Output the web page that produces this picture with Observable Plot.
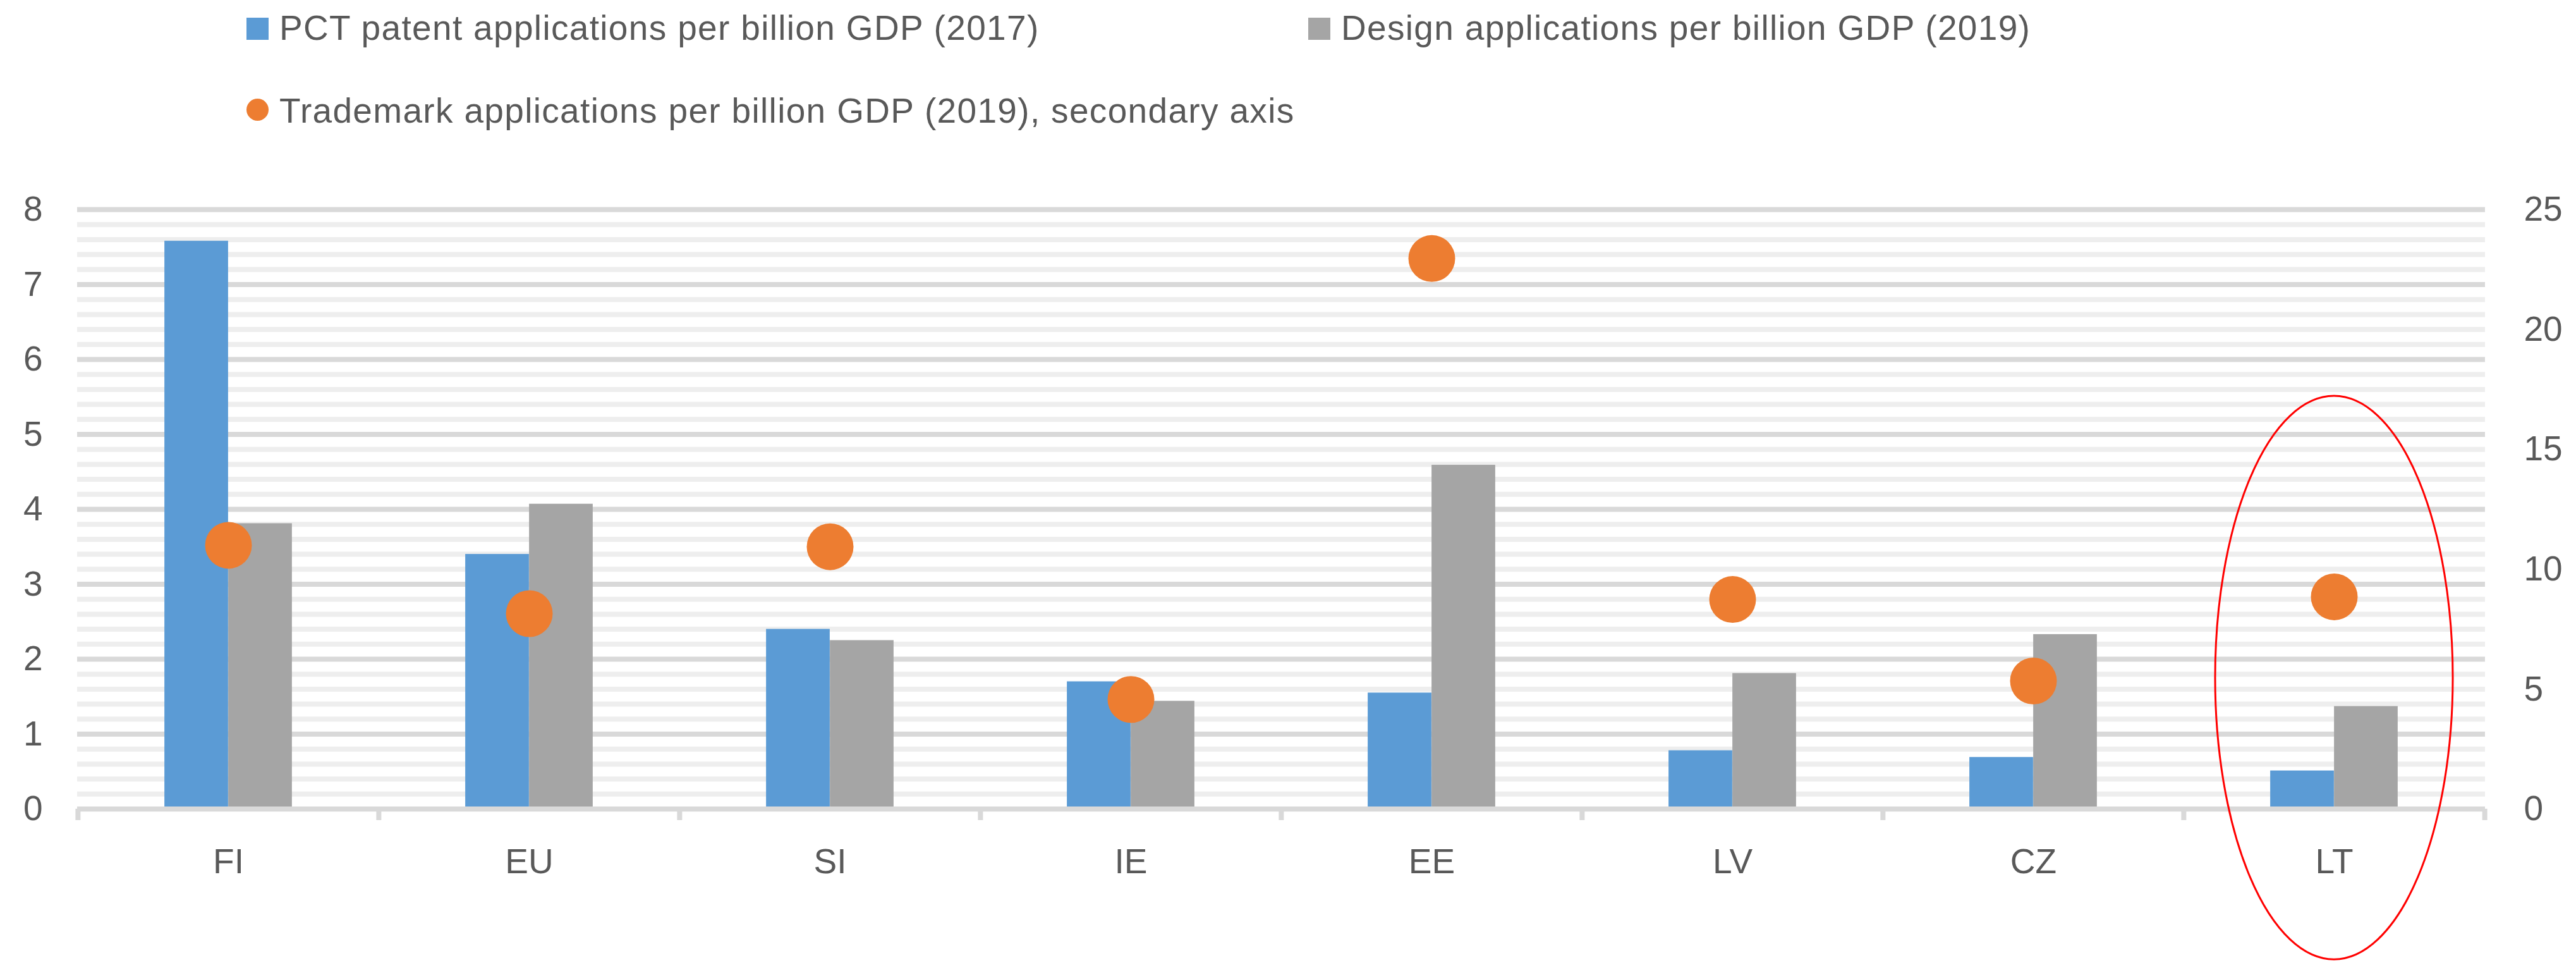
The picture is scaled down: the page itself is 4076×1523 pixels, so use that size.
<!DOCTYPE html>
<html>
<head>
<meta charset="utf-8">
<script src="https://cdn.jsdelivr.net/npm/d3@7"></script>
<script src="https://cdn.jsdelivr.net/npm/@observablehq/plot@0.6"></script>
<style>
  html, body { margin: 0; padding: 0; background: #fff; overflow: hidden; }
  #legend { position: relative; width: 4076px; height: 250px;
            font-family: "Liberation Sans", Arial, sans-serif; font-size: 55px; color: #595959; }
  .item { position: absolute; line-height: 70px; white-space: nowrap; letter-spacing: 1.33px; }
  .sw { display: inline-block; width: 35px; height: 35px; margin-right: 17px; vertical-align: baseline; }
  .sw.circle { border-radius: 50%; vertical-align: 3px; }
</style>
</head>
<body>
<div id="legend"></div>
<div id="chart"></div>
<script>
// ---- data ----
const countries = ["FI", "EU", "SI", "IE", "EE", "LV", "CZ", "LT"];
const pctPatents = [7.58, 3.40, 2.40, 1.70, 1.55, 0.78, 0.69, 0.51];        // left axis
const designApps = [3.81, 4.07, 2.25, 1.44, 4.59, 1.81, 2.33, 1.37];        // left axis
const trademarkApps = [11.0, 8.15, 10.94, 4.57, 22.96, 8.74, 5.34, 8.85];   // secondary axis
const leftTicks = [0, 1, 2, 3, 4, 5, 6, 7, 8];
const rightTicks = [0, 5, 10, 15, 20, 25];
const seriesNames = [
  "PCT patent applications per billion GDP (2017)",
  "Design applications per billion GDP (2019)",
  "Trademark applications per billion GDP (2019), secondary axis"
];
const seriesColors = ["#5B9BD5", "#A5A5A5", "#ED7D31"];
// highlight ellipse around LT (in data units)
const highlight = { country: "LT", cy: 1.75, ryUnits: 3.76, rxBands: 0.395 };

// ---- legend ----
const legendPos = [{left: 390, top: 9, shape: "square"}, {left: 2070, top: 9, shape: "square"}, {left: 390, top: 140, shape: "circle"}];
const legend = document.getElementById("legend");
seriesNames.forEach((name, i) => {
  const it = document.createElement("div");
  it.className = "item";
  it.style.left = legendPos[i].left + "px";
  it.style.top = legendPos[i].top + "px";
  const sw = document.createElement("span");
  sw.className = "sw" + (legendPos[i].shape === "circle" ? " circle" : "");
  sw.style.background = seriesColors[i];
  it.appendChild(sw);
  it.appendChild(document.createTextNode(name));
  legend.appendChild(it);
});

// ---- chart ----
const W = 4076, H = 1273;
const mL = 122, mR = 144, mT = 81, mB = 244;
const bw = (W - mL - mR) / countries.length;
const barW = 101;
const ratio = leftTicks[leftTicks.length - 1] / rightTicks[rightTicks.length - 1];
const unitPx = (H - mT - mB) / leftTicks[leftTicks.length - 1];
const tickLen = 18;

const rows = countries.map((c, i) => ({country: c, pct: pctPatents[i], design: designApps[i], tm: trademarkApps[i]}));
const minorTicks = d3.range(0, 40).filter(i => i % 5 !== 0).map(i => i / 5);
const grid = "#d9d9d9";

const plot = Plot.plot({
  width: W, height: H,
  marginLeft: mL, marginRight: mR, marginTop: mT, marginBottom: mB,
  style: {fontFamily: "'Liberation Sans', Arial, sans-serif", fontSize: "55px", color: "#595959", background: "#fff"},
  x: {domain: countries, padding: 0, tickSize: 0, tickPadding: 62, label: null},
  y: {domain: [0, 8], ticks: 8, tickSize: 0, tickPadding: 55, label: null},
  marks: [
    Plot.ruleY(minorTicks, {stroke: "#eeeeee", strokeWidth: 8}),
    Plot.ruleY(leftTicks.filter(t => t > 0), {stroke: grid, strokeWidth: 8}),
    Plot.barY(rows, {x: "country", y: "pct", fill: seriesColors[0], insetLeft: bw / 2 - barW, insetRight: bw / 2}),
    Plot.barY(rows, {x: "country", y: "design", fill: seriesColors[1], insetLeft: bw / 2, insetRight: bw / 2 - barW}),
    Plot.ruleY([0], {stroke: grid, strokeWidth: 8}),
    Plot.ruleX(countries, {x: d => d, dx: -bw / 2, y1: 0, y2: -tickLen / unitPx, stroke: grid, strokeWidth: 8}),
    Plot.ruleX([countries[countries.length - 1]], {x: d => d, dx: bw / 2, y1: 0, y2: -tickLen / unitPx, stroke: grid, strokeWidth: 8}),
    Plot.dot(rows, {x: "country", y: d => d.tm * ratio, r: 37, fill: seriesColors[2], stroke: "none"}),
    Plot.text(rightTicks, {y: d => d * ratio, text: d => String(d), frameAnchor: "right", textAnchor: "start",
                           dx: 61, fill: "#595959", fontSize: 55})
  ]
});
document.getElementById("chart").appendChild(plot);

// highlight ellipse via the plot's scales
const sx = plot.scale("x"), sy = plot.scale("y");
const cx = sx.apply(highlight.country) + sx.bandwidth / 2;
const cy = sy.apply(highlight.cy);
const ry = Math.abs(sy.apply(0) - sy.apply(highlight.ryUnits));
const rx = highlight.rxBands * sx.bandwidth;
d3.select(plot).append("ellipse")
  .attr("cx", cx).attr("cy", cy).attr("rx", rx).attr("ry", ry)
  .attr("fill", "none").attr("stroke", "#ff0000").attr("stroke-width", 3);
</script>
</body>
</html>
